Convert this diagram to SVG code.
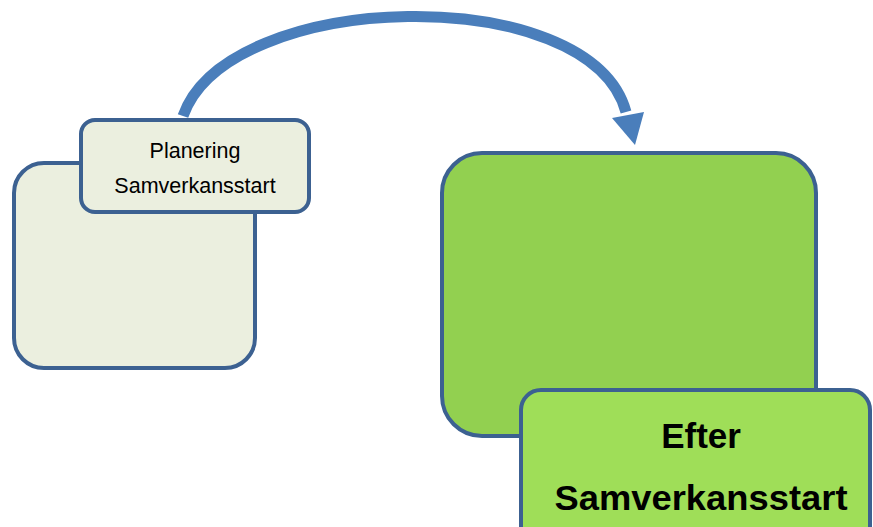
<svg xmlns="http://www.w3.org/2000/svg" width="873" height="527" viewBox="0 0 873 527">
<style>
.box{stroke:#3c6191;stroke-width:4}
.pale{fill:#ebefdf}
.green{fill:#92d050}
.lgreen{fill:#9fde58}
.t{font-family:"Liberation Sans",Arial,sans-serif;fill:#000;text-anchor:middle}
.small{font-size:21.5px}
.big{font-size:35px;font-weight:bold}
.arc{fill:none;stroke:#4a7ebb;stroke-width:11}
</style>
<g id="connectors">
<path class="arc" d="M183,116 C228,-12 590,-20 626,112"/>
<polygon points="612,118 644,112 635,145" fill="#4a7ebb"/>
</g>
<g id="node-left-big">
<rect class="box pale" x="14" y="163" width="241" height="205" rx="30"/>
</g>
<g id="node-planering">
<rect class="box pale" x="81" y="120" width="228" height="92" rx="14"/>
<text class="t small" x="195" y="158">Planering</text>
<text class="t small" x="195" y="193">Samverkansstart</text>
</g>
<g id="node-right-big">
<rect class="box green" x="442" y="153" width="374" height="283" rx="40"/>
</g>
<g id="node-efter">
<rect class="box lgreen" x="521" y="390" width="349" height="170" rx="20"/>
<text class="t big" x="701" y="448">Efter</text>
<text class="t big" x="701" y="510" textLength="293" lengthAdjust="spacingAndGlyphs">Samverkansstart</text>
</g>
</svg>
